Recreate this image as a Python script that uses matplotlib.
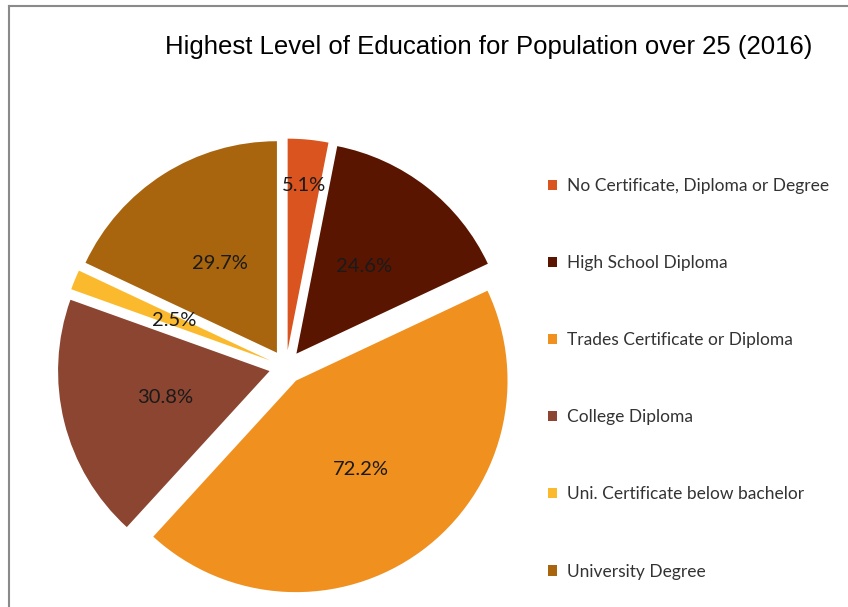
import matplotlib
matplotlib.use("Agg")
import matplotlib.pyplot as plt
from matplotlib.lines import Line2D
from matplotlib.patches import Patch
import numpy as np

# data
categories = ["No Certificate, Diploma or Degree", "High School Diploma",
              "Trades Certificate or Diploma", "College Diploma",
              "Uni. Certificate below bachelor", "University Degree"]
values = [5.1, 24.6, 72.2, 30.8, 2.5, 29.7]
colors = ["#D9541E", "#5A1500", "#F0901F", "#8B4530", "#FBBA2E", "#A8650E"]
label_dist = [0.86, 0.60, 0.60, 0.59, 0.57, 0.58]

W, H = 848, 607
fig = plt.figure(figsize=(W / 100, H / 100), dpi=100)

# pie axes, placed in pixel terms
cx, cy, rad, lim = 286, 367, 211.5, 1.3
half = rad * lim
ax = fig.add_axes([(cx - half) / W, (H - cy - half) / H, 2 * half / W, 2 * half / H])
wedges, _ = ax.pie(values, colors=colors, startangle=90, counterclock=False,
                   explode=[0.08] * len(values), radius=1,
                   wedgeprops=dict(linewidth=0))
ax.set_xlim(-lim, lim)
ax.set_ylim(-lim, lim)
ax.set_aspect("equal")
ax.axis("off")

for w, v, d in zip(wedges, values, label_dist):
    mid = np.deg2rad((w.theta1 + w.theta2) / 2)
    ax.text(d * np.cos(mid), d * np.sin(mid), f"{v}%", ha="center", va="center",
            fontsize=14.5, family=["Lato", "DejaVu Sans"], color="#1a1a1a")

fig.text(489 / W, 1 - 47 / H, "Highest Level of Education for Population over 25 (2016)",
         ha="center", va="center", fontsize=18.5,
         family=["Liberation Sans", "DejaVu Sans"], color="black")

handles = [Patch(facecolor=c, edgecolor="none") for c in colors]
fig.legend(handles, categories, loc="upper left", bbox_to_anchor=(541 / W, 1 - 171 / H),
           frameon=False, labelspacing=3.52, handlelength=0.55,
           handleheight=0.55, handletextpad=0.55, borderaxespad=0,
           prop=dict(family=["Lato", "DejaVu Sans"], size=12.5),
           labelcolor="#333333")

# chart border
fig.add_artist(Line2D([8.5 / W, 8.5 / W], [0, 1 - 6 / H], transform=fig.transFigure,
                      color="#8a8a8a", lw=1.5))
fig.add_artist(Line2D([8.5 / W, 1], [1 - 6 / H, 1 - 6 / H], transform=fig.transFigure,
                      color="#8a8a8a", lw=1.5))

fig.savefig("out.png", dpi=100, facecolor="white")
